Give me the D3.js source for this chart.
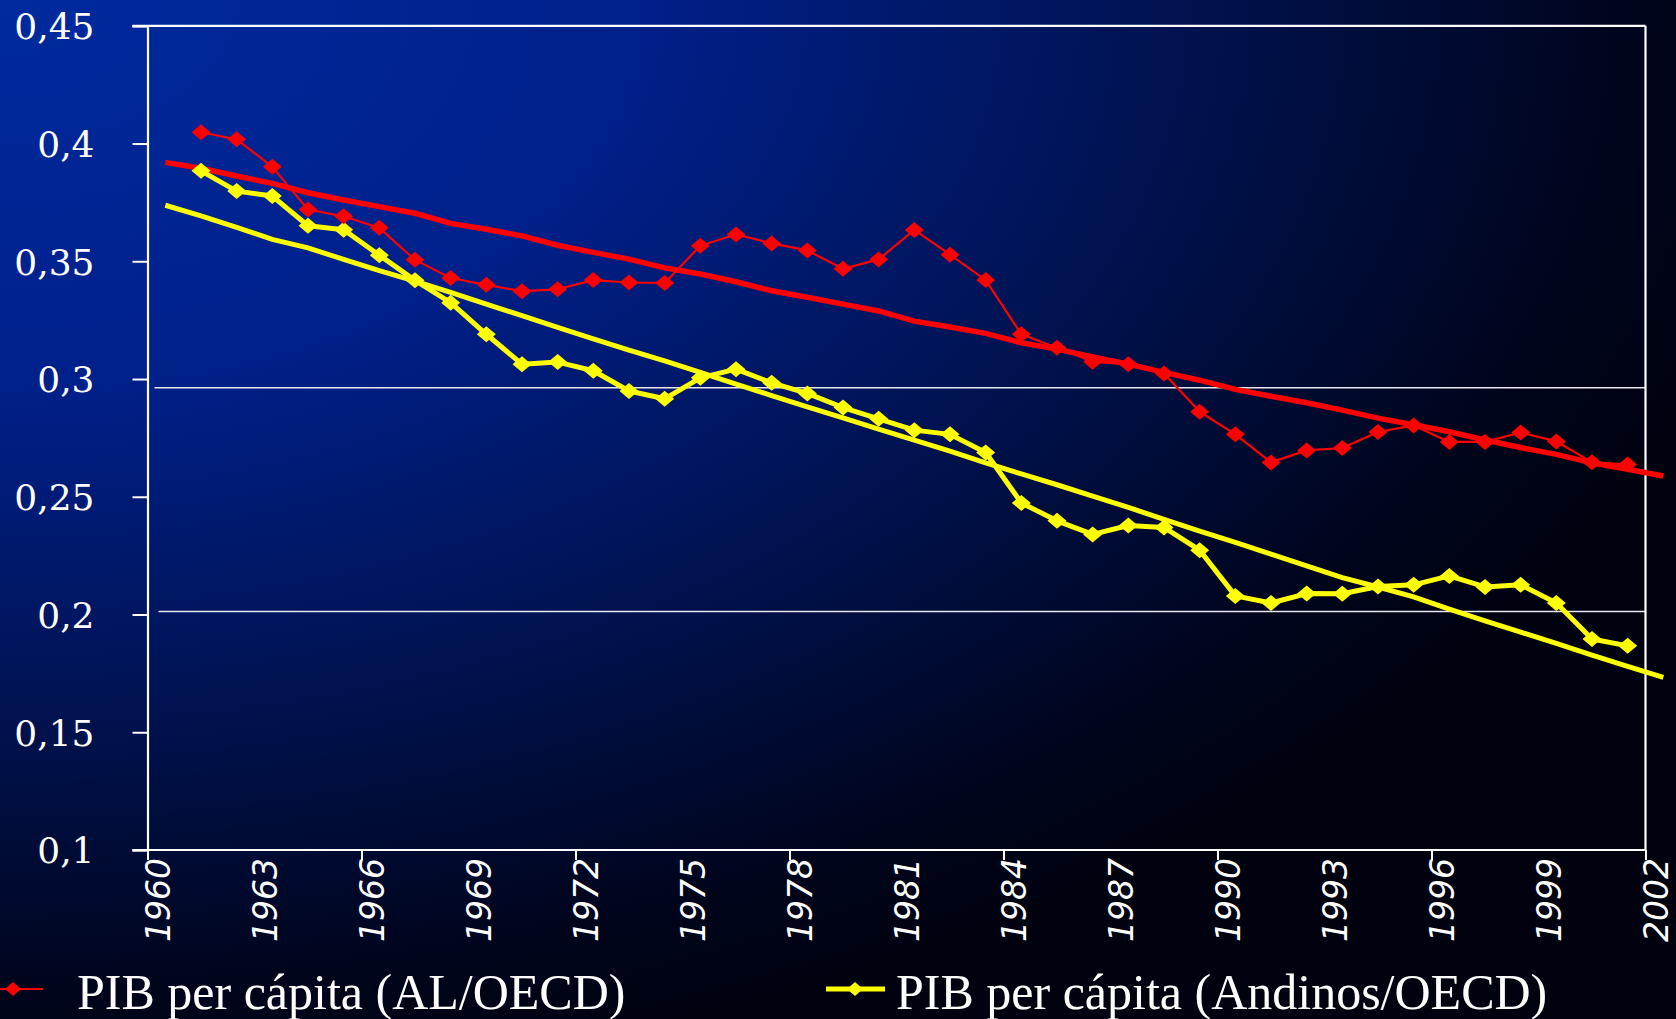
<!DOCTYPE html>
<html>
<head>
<meta charset="utf-8">
<script src="https://cdn.jsdelivr.net/npm/d3@7"></script>
<style>
  html, body { margin: 0; padding: 0; background: #000; overflow: hidden; }
  svg { display: block; }
</style>
</head>
<body>
<svg id="chart"></svg>
<script>
// categories (years) for the two observed series
const years = [1961, 1962, 1963, 1964, 1965, 1966, 1967, 1968, 1969, 1970,
  1971, 1972, 1973, 1974, 1975, 1976, 1977, 1978, 1979, 1980,
  1981, 1982, 1983, 1984, 1985, 1986, 1987, 1988, 1989, 1990,
  1991, 1992, 1993, 1994, 1995, 1996, 1997, 1998, 1999, 2000, 2001];

// years of the trend series
const trendYears = [1960, 1961, 1962, 1963, 1964, 1965, 1966, 1967, 1968, 1969,
  1970, 1971, 1972, 1973, 1974, 1975, 1976, 1977, 1978, 1979,
  1980, 1981, 1982, 1983, 1984, 1985, 1986, 1987, 1988, 1989,
  1990, 1991, 1992, 1993, 1994, 1995, 1996, 1997, 1998, 1999,
  2000, 2001, 2002];

// PIB per capita AL/OECD
const alValues = [0.4048, 0.4018, 0.3901, 0.3720, 0.3691, 0.3642, 0.3506, 0.3429, 0.3400, 0.3373,
  0.3381, 0.3420, 0.3410, 0.3408, 0.3566, 0.3614, 0.3576, 0.3546, 0.3468, 0.3508,
  0.3633, 0.3528, 0.3420, 0.3190, 0.3133, 0.3073, 0.3063, 0.3024, 0.2861, 0.2765,
  0.2646, 0.2697, 0.2707, 0.2775, 0.2803, 0.2733, 0.2733, 0.2773, 0.2735, 0.2647, 0.2637];

// PIB per capita Andinos/OECD
const andValues = [0.3884, 0.3798, 0.3777, 0.3651, 0.3634, 0.3526, 0.3419, 0.3324, 0.3190, 0.3063,
  0.3072, 0.3035, 0.2949, 0.2916, 0.3005, 0.3042, 0.2984, 0.2939, 0.2879, 0.2831,
  0.2783, 0.2765, 0.2688, 0.2474, 0.2398, 0.2340, 0.2378, 0.2370, 0.2273, 0.2079,
  0.2049, 0.2089, 0.2088, 0.2119, 0.2126, 0.2164, 0.2117, 0.2126, 0.2049, 0.1896, 0.1867];

// trend lines
const alTrend = [0.3920, 0.3895, 0.3862, 0.3831, 0.3791, 0.3760, 0.3732, 0.3704, 0.3661, 0.3636,
  0.3608, 0.3568, 0.3538, 0.3509, 0.3472, 0.3446, 0.3413, 0.3375, 0.3347, 0.3318,
  0.3289, 0.3246, 0.3221, 0.3194, 0.3154, 0.3127, 0.3094, 0.3063, 0.3028, 0.2995,
  0.2956, 0.2927, 0.2899, 0.2868, 0.2834, 0.2806, 0.2776, 0.2741, 0.2709, 0.2680,
  0.2644, 0.2617, 0.2588];
const andTrend = [0.3738, 0.3693, 0.3644, 0.3593, 0.3557, 0.3508, 0.3460, 0.3416, 0.3368, 0.3318,
  0.3269, 0.3219, 0.3171, 0.3123, 0.3077, 0.3028, 0.2978, 0.2930, 0.2882, 0.2835,
  0.2787, 0.2741, 0.2694, 0.2644, 0.2597, 0.2551, 0.2503, 0.2455, 0.2404, 0.2354,
  0.2306, 0.2256, 0.2207, 0.2157, 0.2117, 0.2075, 0.2023, 0.1973, 0.1925, 0.1877,
  0.1828, 0.1780, 0.1733];

// axis labels
const yTicks = [0.1, 0.15, 0.2, 0.25, 0.3, 0.35, 0.4, 0.45];
const xLabels = [1960, 1963, 1966, 1969, 1972, 1975, 1978, 1981, 1984, 1987, 1990, 1993, 1996, 1999, 2002];
const xTickMarks = [1960, 1966, 1972, 1978, 1984, 1990, 1996, 2002];
// horizontal gridlines (as placed in the original, a little off the ticks)
const gridValues = [0.2963, 0.2013];

const legendNames = ["PIB per cápita (AL/OECD)", "PIB per cápita (Andinos/OECD)"];

const w = 1676;
const h = 1019;
const plotLeft = 147.5, plotRight = 1645.5, plotTop = 25.8, plotBottom = 850;

const svg = d3.select("#chart").attr("width", w).attr("height", h);

// background gradient
const defs = svg.append("defs");
const grad = defs.append("radialGradient")
  .attr("id", "bg")
  .attr("cx", 0).attr("cy", 0).attr("r", 1.08)
  .attr("fx", 0).attr("fy", 0);
grad.append("stop").attr("offset", "0%").attr("stop-color", "#002a9e");
grad.append("stop").attr("offset", "35%").attr("stop-color", "#00208a");
grad.append("stop").attr("offset", "65%").attr("stop-color", "#001250");
grad.append("stop").attr("offset", "90%").attr("stop-color", "#00051c");
grad.append("stop").attr("offset", "100%").attr("stop-color", "#000210");
svg.append("rect").attr("width", w).attr("height", h).attr("fill", "url(#bg)");

const xScale = d3.scaleLinear().domain([1960, 2002]).range([plotLeft, plotRight]);
const yScale = d3.scaleLinear().domain([0.1, 0.45]).range([plotBottom, plotTop]);
// points sit in the middle of each year's slot
const px = (yr) => xScale(yr + 0.5);

// gridlines
svg.selectAll("line.grid")
  .data(gridValues)
  .enter()
  .append("line")
  .attr("class", "grid")
  .attr("x1", (d, i) => plotLeft + 7 + i * 4)
  .attr("x2", plotRight)
  .attr("y1", (d) => yScale(d))
  .attr("y2", (d) => yScale(d))
  .attr("stroke", "#e8e8f0")
  .attr("stroke-width", 1.6);

// frame top and right
svg.append("line")
  .attr("x1", plotLeft - 15).attr("x2", plotRight)
  .attr("y1", plotTop).attr("y2", plotTop)
  .attr("stroke", "#ffffff").attr("stroke-width", 2.2);
svg.append("line")
  .attr("x1", plotRight).attr("x2", plotRight)
  .attr("y1", plotTop).attr("y2", plotBottom)
  .attr("stroke", "#ffffff").attr("stroke-width", 2.2);

// y axis
const yAxis = d3.axisLeft(yScale)
  .tickValues(yTicks)
  .tickSize(15)
  .tickPadding(38)
  .tickFormat((d) => String(d).replace(".", ","));
const gy = svg.append("g").attr("transform", `translate(${plotLeft},0)`).call(yAxis);
gy.select(".domain").attr("stroke", "#ffffff").attr("stroke-width", 2.2);
gy.selectAll(".tick line").attr("stroke", "#ffffff").attr("stroke-width", 2);
gy.selectAll(".tick text")
  .attr("fill", "#ffffff")
  .attr("font-family", "'DejaVu Serif', serif")
  .attr("font-size", 36)
  .attr("dy", "0.36em");

// x axis: tick marks every 6 years, labels every 3
const xAxis = d3.axisBottom(xScale)
  .tickValues(xTickMarks)
  .tickSize(10)
  .tickFormat("");
const gx = svg.append("g").attr("transform", `translate(0,${plotBottom})`).call(xAxis);
gx.select(".domain").attr("d", `M${plotLeft - 15},0H${plotRight}`).attr("stroke", "#ffffff").attr("stroke-width", 2.2);
gx.selectAll(".tick line").attr("stroke", "#ffffff").attr("stroke-width", 2);

svg.selectAll("text.xlab")
  .data(xLabels)
  .enter()
  .append("text")
  .attr("class", "xlab")
  .attr("transform", (d) => `translate(${xScale(d) + 11},${plotBottom + 8}) rotate(-90)`)
  .attr("text-anchor", "end")
  .attr("dy", "0.34em")
  .attr("fill", "#ffffff")
  .attr("font-family", "'DejaVu Sans', sans-serif")
  .attr("font-style", "italic")
  .attr("font-size", 33)
  .text((d) => d);

const line = d3.line().x((d) => px(d[0])).y((d) => yScale(d[1]));

// trend lines
svg.append("path")
  .datum(d3.zip(trendYears, andTrend))
  .attr("d", line)
  .attr("fill", "none")
  .attr("stroke", "#ffff00")
  .attr("stroke-width", 5);
svg.append("path")
  .datum(d3.zip(trendYears, alTrend))
  .attr("d", line)
  .attr("fill", "none")
  .attr("stroke", "#ff0000")
  .attr("stroke-width", 5.5);

const diamond = (cx, cy, rw, rh) => `M${cx},${cy - rh}L${cx + rw},${cy}L${cx},${cy + rh}L${cx - rw},${cy}Z`;

// observed series
const series = [
  { vals: andValues, color: "#ffff00", width: 5 },
  { vals: alValues, color: "#ff0000", width: 2.2 },
];
series.forEach((s) => {
  const pts = d3.zip(years, s.vals);
  svg.append("path")
    .datum(pts)
    .attr("d", line)
    .attr("fill", "none")
    .attr("stroke", s.color)
    .attr("stroke-width", s.width)
    .attr("stroke-linejoin", "round");
  svg.append("g")
    .selectAll("path")
    .data(pts)
    .enter()
    .append("path")
    .attr("d", (d) => diamond(px(d[0]), yScale(d[1]), 9.5, 8))
    .attr("fill", s.color);
});

// legend
const legend = [
  { name: legendNames[0], color: "#ff0000", width: 2.2, x1: -17, x2: 43, mx: 13, tx: 77 },
  { name: legendNames[1], color: "#ffff00", width: 5, x1: 826, x2: 885, mx: 855, tx: 896 },
];
const lg = svg.append("g");
legend.forEach((l) => {
  lg.append("line")
    .attr("x1", l.x1).attr("x2", l.x2)
    .attr("y1", 989).attr("y2", 989)
    .attr("stroke", l.color).attr("stroke-width", l.width);
  lg.append("path").attr("d", diamond(l.mx, 989, 8, 7)).attr("fill", l.color);
  lg.append("text")
    .attr("x", l.tx)
    .attr("y", 1009)
    .attr("fill", "#ffffff")
    .attr("font-family", "'Liberation Serif', serif")
    .attr("font-size", 50)
    .text(l.name);
});
</script>
</body>
</html>
